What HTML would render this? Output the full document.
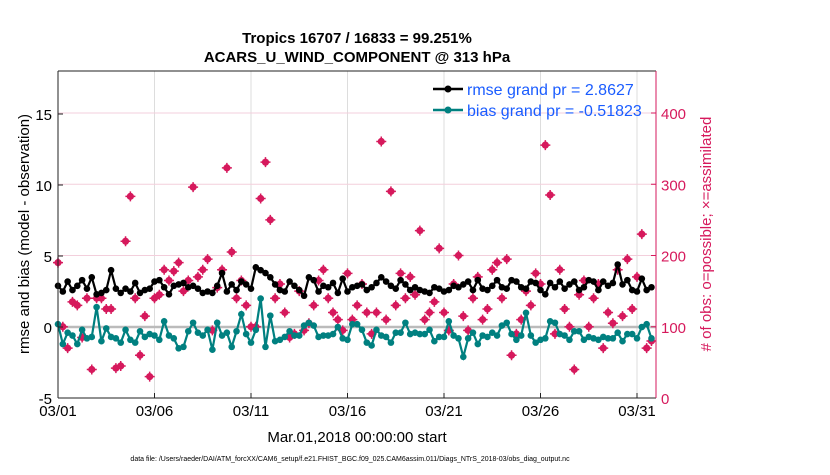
<!DOCTYPE html>
<html><head><meta charset="utf-8"><style>
body{margin:0;background:#fff;width:830px;height:470px;overflow:hidden}
svg text{font-family:"Liberation Sans",sans-serif}
</style></head><body>
<svg id="chart" width="830" height="470" xmlns="http://www.w3.org/2000/svg">
<rect x="0" y="0" width="830" height="470" fill="#fff"/>
<g id="grid"></g>
<g id="series"></g>
<g id="axes"></g>
<text x="357" y="43" text-anchor="middle" font-size="15" font-weight="bold">Tropics 16707 / 16833 = 99.251%</text>
<text x="357" y="62" text-anchor="middle" font-size="15" font-weight="bold">ACARS_U_WIND_COMPONENT @ 313 hPa</text>
<text x="357" y="442" text-anchor="middle" font-size="15">Mar.01,2018 00:00:00 start</text>
<text transform="translate(29,234) rotate(-90)" text-anchor="middle" font-size="15">rmse and bias (model - observation)</text>
<text transform="translate(711,234) rotate(-90)" text-anchor="middle" font-size="15" fill="#d6195c"># of obs: o=possible; ×=assimilated</text>
<text x="350" y="461" text-anchor="middle" font-size="7">data file: /Users/raeder/DAI/ATM_forcXX/CAM6_setup/f.e21.FHIST_BGC.f09_025.CAM6assim.011/Diags_NTrS_2018-03/obs_diag_output.nc</text>
<g>
<line x1="433" y1="89" x2="463" y2="89" stroke="#000" stroke-width="2.5"/><circle cx="448" cy="89" r="3.5" fill="#000"/>
<text x="467" y="95" font-size="16" fill="#1a5cff">rmse grand pr = 2.8627</text>
<line x1="433" y1="110" x2="463" y2="110" stroke="#008080" stroke-width="2.5"/><circle cx="448" cy="110" r="3.5" fill="#008080"/>
<text x="467" y="116" font-size="16" fill="#1a5cff">bias grand pr = -0.51823</text>
</g>
</svg>
<script>
const xTickLabels=["03/01","03/06","03/11","03/16","03/21","03/26","03/31"];
const xTickDays=[0,5,10,15,20,25,30];
const leftTicks=[-5,0,5,10,15];
const rightTicks=[0,100,200,300,400];
const rmse=[2.9,2.5,3.2,2.6,2.9,3.3,2.7,3.5,2.3,2.4,2.6,4.0,2.7,2.4,2.7,2.5,3.1,2.4,2.6,2.7,3.2,3.3,2.8,2.3,2.9,3.0,3.1,2.8,2.9,2.7,2.4,2.5,2.4,2.9,3.8,2.5,3.0,2.6,3.2,3.0,2.7,4.2,4.0,3.8,3.5,3.0,2.6,2.5,3.2,2.9,2.6,2.2,3.5,3.3,2.5,2.9,2.8,3.1,2.4,3.4,2.5,2.8,2.9,3.0,2.6,2.8,3.1,3.5,3.2,2.9,2.7,3.3,3.0,2.6,2.8,2.6,2.5,2.4,2.8,2.7,2.5,2.6,2.9,2.8,3.0,3.2,2.6,3.3,2.7,2.6,2.9,3.3,2.8,2.7,3.3,3.2,2.8,2.7,3.2,3.1,2.6,2.3,3.1,2.8,3.2,2.7,3.0,3.2,2.6,2.8,3.3,3.2,2.6,3.2,2.9,3.1,4.4,3.0,3.3,2.6,2.5,3.4,2.6,2.8];
const bias=[0.2,-1.2,-0.4,-0.6,-1.2,-0.2,-0.8,-0.7,1.4,-1.0,-0.1,-0.7,-0.8,-1.1,-0.2,-0.9,-1.1,-0.3,-0.7,-0.5,-0.6,-0.9,0.4,-0.6,-0.8,-1.5,-1.4,-0.3,0.3,-0.4,-0.6,-0.2,-1.6,0.3,-0.6,-0.4,-1.4,-0.3,0.9,-0.5,-1.1,-0.2,2.0,-1.4,0.8,-1.0,-0.9,-0.7,-0.3,-0.6,-0.6,0.1,0.3,0.1,-0.7,-0.6,-0.6,-0.5,0.0,-0.8,-0.9,0.2,0.2,-0.2,-1.1,-1.3,-0.2,-0.6,-0.7,-1.1,-0.4,-0.4,0.3,-0.5,-0.4,-0.5,-0.5,-0.2,-1.0,-0.7,-0.7,0.4,-0.6,-0.8,-2.1,-0.8,-0.4,-1.2,-0.6,-0.7,-0.4,-0.6,0.1,0.3,-0.5,-0.9,-0.6,1.0,-0.6,-1.1,-0.9,-0.8,0.4,0.3,-0.5,-0.6,-0.9,-0.3,-0.3,-0.9,-0.7,-0.8,-0.9,-0.7,-0.8,-0.8,-0.4,-1.0,-0.5,-0.5,-0.8,0.0,0.2,-0.8];
const obsCount=[190,100,70,135,130,85,140,40,140,140,125,125,42,45,220,283,140,60,115,30,140,145,180,165,178,190,150,165,296,170,180,195,95,155,180,323,205,140,165,130,100,100,280,331,250,140,160,120,85,90,150,95,105,130,165,180,140,120,110,95,175,110,130,160,120,90,120,360,110,290,130,175,140,170,145,235,110,120,135,210,120,95,160,200,115,95,140,170,110,125,180,190,140,195,60,90,110,150,130,175,160,355,285,90,180,125,100,40,145,165,100,140,160,70,120,105,180,115,195,125,170,230,70,80];
const NS="http://www.w3.org/2000/svg";
const L=58,R=656,T=71,B=398;
function xs(d){return L+d*19.3;}
function yl(v){return B-(v+5)*(B-327)/5;}
function yr(c){return B-c*0.7125;}
function mk(tag,attrs,parent){const e=document.createElementNS(NS,tag);for(const k in attrs)e.setAttribute(k,attrs[k]);parent.appendChild(e);return e;}
const grid=document.getElementById('grid'),ser=document.getElementById('series'),ax=document.getElementById('axes');
xTickDays.forEach((d,i)=>{
  const g=mk('line',{x1:xs(d),x2:xs(d),y1:T,y2:B,stroke:'#ddd','stroke-width':1},grid);
  
  
  mk('line',{x1:xs(d),x2:xs(d),y1:B,y2:B-5,stroke:'#222'},ax);
  const t=mk('text',{x:xs(d),y:B+18,'text-anchor':'middle','font-size':15},ax);t.textContent=xTickLabels[i];
  
  
});
rightTicks.forEach(c=>{
  if(c>0&&c<460){const g=mk('line',{x1:L,x2:R,y1:yr(c),y2:yr(c),stroke:'#f3cfdc','stroke-width':1},grid);
  
  }
  mk('line',{x1:R,x2:R-5,y1:yr(c),y2:yr(c),stroke:'#d6195c'},ax);
  const t=mk('text',{x:R+5,y:yr(c)+6,'font-size':15,fill:'#d6195c'},ax);t.textContent=c;
  
  
});
leftTicks.forEach(v=>{
  mk('line',{x1:L,x2:L+5,y1:yl(v),y2:yl(v),stroke:'#222'},ax);
  const t=mk('text',{x:L-6,y:yl(v)+6,'text-anchor':'end','font-size':15},ax);t.textContent=v;
  
  
});
const z=mk('line',{x1:L,x2:R,y1:yl(0),y2:yl(0),stroke:'#bbb','stroke-width':2.5},grid);


mk('line',{x1:L,x2:R,y1:T,y2:T,stroke:'#222'},ax);
mk('line',{x1:L,x2:R,y1:B,y2:B,stroke:'#222'},ax);
mk('line',{x1:L,x2:L,y1:T,y2:B,stroke:'#222'},ax);
mk('line',{x1:R,x2:R,y1:T,y2:B,stroke:'#d6195c'},ax);
obsCount.forEach((c,i)=>{
  const x=xs(i*0.25),y=yr(c);
  const g=mk('g',{},ser);
  
  
  mk('circle',{cx:x,cy:y,r:3.6,fill:'#d6195c'},g);
  mk('path',{d:`M${x-5} ${y}H${x+5}M${x} ${y-5}V${y+5}`,stroke:'#d6195c','stroke-width':1.5},g);
});
function line(arr,color,name){
  const p=mk('polyline',{points:arr.map((v,i)=>xs(i*0.25)+','+yl(v)).join(' '),fill:'none',stroke:color,'stroke-width':2.2},ser);
  
  
  arr.forEach((v,i)=>{const c=mk('circle',{cx:xs(i*0.25),cy:yl(v),r:3.3,fill:color},ser);
  
  });
}
line(rmse,'#000','rmse');
line(bias,'#008080','bias');
</script>
</body></html>
